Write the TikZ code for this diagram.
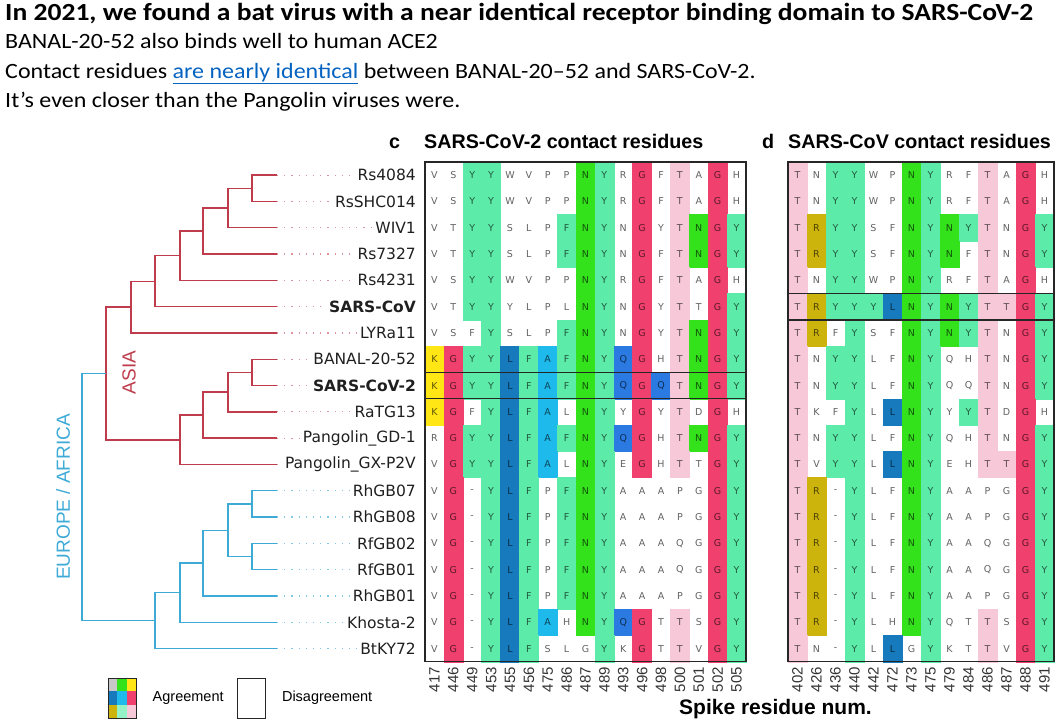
\documentclass[tikz,border=0pt]{standalone}
\usepackage{fontspec}
\usepackage{tikz}
\usetikzlibrary{positioning}
\newfontfamily\calib{Carlito}
\newfontfamily\verd{DejaVu Sans}
\newfontfamily\arial{Liberation Sans}

\definecolor{resK}{RGB}{255,230,20}
\definecolor{resG}{RGB}{240,64,110}
\definecolor{resY}{RGB}{92,235,168}
\colorlet{resF}{resY}
\definecolor{resL}{RGB}{22,122,188}
\definecolor{resA}{RGB}{30,186,236}
\definecolor{resN}{RGB}{52,226,28}
\definecolor{resQ}{RGB}{42,122,226}
\definecolor{resT}{RGB}{246,200,216}
\definecolor{resR}{RGB}{204,180,12}
\definecolor{asiared}{RGB}{190,60,75}
\definecolor{eurblue}{RGB}{62,170,214}
\definecolor{linkblue}{RGB}{5,99,193}

\tikzstyle{asia}=[draw=asiared,line width=1.4pt]
\tikzstyle{eur}=[draw=eurblue,line width=1.4pt]
\tikzstyle{asiadots}=[draw=asiared!55,line width=1.2pt,dash pattern=on 1.2pt off 6pt]
\tikzstyle{eurdots}=[draw=eurblue!65,line width=1.2pt,dash pattern=on 1.2pt off 6pt]
\tikzstyle{leaf}=[anchor=east,inner sep=0pt,text=black!88,font=\verd\fontsize{15.5}{18}\selectfont]
\tikzstyle{res}=[inner sep=0pt,text=black,text opacity=0.62,font=\verd\fontsize{9.5}{10}\selectfont]
\tikzstyle{resnum}=[rotate=90,anchor=east,inner sep=0pt,text=black!80,font=\arial\fontsize{15}{16}\selectfont]
\tikzstyle{panelbox}=[draw=black!85,line width=1.4pt]
\tikzstyle{header}=[anchor=base west,inner sep=0pt,font=\arial\bfseries\fontsize{19.7}{22}\selectfont]
\tikzstyle{headline}=[anchor=base west,inner sep=0pt,xscale=1.12,font=\calib\bfseries\fontsize{24.6}{28}\selectfont]
\tikzstyle{subline}=[anchor=base west,inner sep=0pt,xscale=1.1,font=\calib\fontsize{21.8}{24}\selectfont]
\tikzstyle{legbox}=[draw=black!85,line width=1pt,minimum width=28pt,minimum height=40pt,inner sep=0pt]
\tikzstyle{legtext}=[inner sep=0pt,font=\arial\fontsize{14.5}{16}\selectfont]

% grid geometry (panel c, panel d, rows)
\def\cx{425} \def\cw{18.88}
\def\dx{788} \def\dw{19.0}
\def\ry{162} \def\rh{26.3}

% reference sequences
\newcommand{\setref}[2]{\foreach \r [count=\k] in {#2} {\expandafter\xdef\csname #1\k\endcsname{\r}}}
\setref{refc}{K,G,Y,Y,L,F,A,F,N,Y,Q,G,Q,T,N,G,Y}
\setref{refd}{T,R,Y,Y,Y,L,N,Y,N,Y,T,T,G,Y}

\newcommand{\seqcells}[5]{% #1 row, #2 letters, #3 ref, #4 x0, #5 width
  \foreach \rl [count=\ci] in {#2} {
    \edef\curl{\rl}\edef\refl{\csname #3\ci\endcsname}
    \ifx\curl\refl
      \edef\cc{res\rl}
      \fill[fill=\cc,draw=\cc,line width=0.4pt] ({#4+#5*(\ci-1)},{\ry+\rh*(#1-1)}) rectangle ++(#5,\rh);
    \fi
    \node[res] (#3r#1c\ci) at ({#4+#5*(\ci-0.5)},{\ry+\rh*(#1-0.5)}) {\rl};
  }}
\newcommand{\seqrow}[3]{\seqcells{#1}{#2}{refc}{\cx}{\cw}\seqcells{#1}{#3}{refd}{\dx}{\dw}}

\begin{document}
\begin{tikzpicture}[x=1pt,y=-1pt]
\useasboundingbox (0,0) rectangle (1062,720);

% text on top
\node[headline] (title) at (5,20) {In 2021, we found a bat virus with a near identical receptor binding domain to SARS-CoV-2};
\node[subline] (line1) at (5,48) {BANAL-20-52 also binds well to human ACE2};
\node[subline] (line2) at (5,78) {Contact residues \textcolor{linkblue}{\underline{are nearly identical}} between BANAL-20–52 and SARS-CoV-2.};
\node[subline] (line3) at (5,107) {It’s even closer than the Pangolin viruses were.};

% panel headers
\node[header] (clet) at (389,148) {c};
\node[header] (chead) at (424,148) {SARS-CoV-2 contact residues};
\node[header] (dlet) at (762,148) {d};
\node[header] (dhead) at (788,148) {SARS-CoV contact residues};

% alignment
\seqrow{1}{V,S,Y,Y,W,V,P,P,N,Y,R,G,F,T,A,G,H}{T,N,Y,Y,W,P,N,Y,R,F,T,A,G,H}
\seqrow{2}{V,S,Y,Y,W,V,P,P,N,Y,R,G,F,T,A,G,H}{T,N,Y,Y,W,P,N,Y,R,F,T,A,G,H}
\seqrow{3}{V,T,Y,Y,S,L,P,F,N,Y,N,G,Y,T,N,G,Y}{T,R,Y,Y,S,F,N,Y,N,Y,T,N,G,Y}
\seqrow{4}{V,T,Y,Y,S,L,P,F,N,Y,N,G,F,T,N,G,Y}{T,R,Y,Y,S,F,N,Y,N,F,T,N,G,Y}
\seqrow{5}{V,S,Y,Y,W,V,P,P,N,Y,R,G,F,T,A,G,H}{T,N,Y,Y,W,P,N,Y,R,F,T,A,G,H}
\seqrow{6}{V,T,Y,Y,Y,L,P,L,N,Y,N,G,Y,T,T,G,Y}{T,R,Y,Y,Y,L,N,Y,N,Y,T,T,G,Y}
\seqrow{7}{V,S,F,Y,S,L,P,F,N,Y,N,G,Y,T,N,G,Y}{T,R,F,Y,S,F,N,Y,N,Y,T,N,G,Y}
\seqrow{8}{K,G,Y,Y,L,F,A,F,N,Y,Q,G,H,T,N,G,Y}{T,N,Y,Y,L,F,N,Y,Q,H,T,N,G,Y}
\seqrow{9}{K,G,Y,Y,L,F,A,F,N,Y,Q,G,Q,T,N,G,Y}{T,N,Y,Y,L,F,N,Y,Q,Q,T,N,G,Y}
\seqrow{10}{K,G,F,Y,L,F,A,L,N,Y,Y,G,Y,T,D,G,H}{T,K,F,Y,L,L,N,Y,Y,Y,T,D,G,H}
\seqrow{11}{R,G,Y,Y,L,F,A,F,N,Y,Q,G,H,T,N,G,Y}{T,N,Y,Y,L,F,N,Y,Q,H,T,N,G,Y}
\seqrow{12}{V,G,Y,Y,L,F,A,L,N,Y,E,G,H,T,T,G,Y}{T,V,Y,Y,L,L,N,Y,E,H,T,T,G,Y}
\seqrow{13}{V,G,-,Y,L,F,P,F,N,Y,A,A,A,P,G,G,Y}{T,R,-,Y,L,F,N,Y,A,A,P,G,G,Y}
\seqrow{14}{V,G,-,Y,L,F,P,F,N,Y,A,A,A,P,G,G,Y}{T,R,-,Y,L,F,N,Y,A,A,P,G,G,Y}
\seqrow{15}{V,G,-,Y,L,F,P,F,N,Y,A,A,A,Q,G,G,Y}{T,R,-,Y,L,F,N,Y,A,A,Q,G,G,Y}
\seqrow{16}{V,G,-,Y,L,F,P,F,N,Y,A,A,A,Q,G,G,Y}{T,R,-,Y,L,F,N,Y,A,A,Q,G,G,Y}
\seqrow{17}{V,G,-,Y,L,F,P,F,N,Y,A,A,A,P,G,G,Y}{T,R,-,Y,L,F,N,Y,A,A,P,G,G,Y}
\seqrow{18}{V,G,-,Y,L,F,A,H,N,Y,Q,G,T,T,S,G,Y}{T,R,-,Y,L,H,N,Y,Q,T,T,S,G,Y}
\seqrow{19}{V,G,-,Y,L,F,S,L,G,Y,K,G,T,T,V,G,Y}{T,N,-,Y,L,L,G,Y,K,T,T,V,G,Y}

% frames
\draw[panelbox] (\cx,\ry) rectangle ++({17*\cw},{19*\rh});
\draw[panelbox] (\dx,\ry) rectangle ++({14*\dw},{19*\rh});
\draw[panelbox] (\cx,{\ry+8*\rh}) rectangle ++({17*\cw},\rh);
\draw[panelbox] (\dx,{\ry+5*\rh}) rectangle ++({14*\dw},\rh);

% residue numbers
\foreach \n [count=\ci] in {417,446,449,453,455,456,475,486,487,489,493,496,498,500,501,502,505}
  \node[resnum] (cnum\ci) at ({\cx+\cw*(\ci-0.5)},667) {\n};
\foreach \n [count=\ci] in {402,426,436,440,442,472,473,475,479,484,486,487,488,491}
  \node[resnum] (dnum\ci) at ({\dx+\dw*(\ci-0.5)},667) {\n};
\node[header,font=\arial\bfseries\fontsize{21}{24}\selectfont] (axis) at (679,714) {Spike residue num.};

% leaves
\foreach \lab/\reg [count=\i] in {Rs4084/asiadots,RsSHC014/asiadots,WIV1/asiadots,Rs7327/asiadots,Rs4231/asiadots,
  {\bfseries SARS-CoV}/asiadots,LYRa11/asiadots,BANAL-20-52/asiadots,{\bfseries SARS-CoV-2}/asiadots,RaTG13/asiadots,
  Pangolin\_GD-1/asiadots,Pangolin\_GX-P2V/asiadots,RhGB07/eurdots,RhGB08/eurdots,RfGB02/eurdots,RfGB01/eurdots,
  RhGB01/eurdots,Khosta-2/eurdots,BtKY72/eurdots} {
  \node[leaf] (leaf\i) at (416,{\ry+\rh*(\i-0.5)}) {\lab};
  \coordinate (tip\i) at (277,{\ry+\rh*(\i-0.5)});
  \draw[\reg] (tip\i) -- ([xshift=-3pt]leaf\i.west);
}

% tree nodes
\coordinate (a1) at (252,188.3);
\coordinate (a2) at (228,208.0);
\coordinate (a3) at (203,231.0);
\coordinate (a4) at (180,255.7);
\coordinate (a5) at (155,281.2);
\coordinate (a6) at (131,307.1);
\coordinate (b1) at (252,372.4);
\coordinate (b2) at (228,392.1);
\coordinate (b3) at (203,415.1);
\coordinate (b4) at (180,439.8);
\coordinate (asianode) at (106,373.45);
\coordinate (e1) at (252,503.9);
\coordinate (e2) at (252,556.5);
\coordinate (e3) at (228,530.2);
\coordinate (e4) at (203,563.1);
\coordinate (e5) at (180,592.7);
\coordinate (e6) at (155,620.6);
\coordinate (root) at (82,497.0);

% asia branches
\draw[asia] (a1) |- (tip1);
\draw[asia] (a1) |- (tip2);
\draw[asia] (a2) |- (a1);
\draw[asia] (a2) |- (tip3);
\draw[asia] (a3) |- (a2);
\draw[asia] (a3) |- (tip4);
\draw[asia] (a4) |- (a3);
\draw[asia] (a4) |- (tip5);
\draw[asia] (a5) |- (a4);
\draw[asia] (a5) |- (tip6);
\draw[asia] (a6) |- (a5);
\draw[asia] (a6) |- (tip7);
\draw[asia] (b1) |- (tip8);
\draw[asia] (b1) |- (tip9);
\draw[asia] (b2) |- (b1);
\draw[asia] (b2) |- (tip10);
\draw[asia] (b3) |- (b2);
\draw[asia] (b3) |- (tip11);
\draw[asia] (b4) |- (b3);
\draw[asia] (b4) |- (tip12);
\draw[asia] (asianode) |- (a6);
\draw[asia] (asianode) |- (b4);

% europe / africa branches
\draw[eur] (e1) |- (tip13);
\draw[eur] (e1) |- (tip14);
\draw[eur] (e2) |- (tip15);
\draw[eur] (e2) |- (tip16);
\draw[eur] (e3) |- (e1);
\draw[eur] (e3) |- (e2);
\draw[eur] (e4) |- (e3);
\draw[eur] (e4) |- (tip17);
\draw[eur] (e5) |- (e4);
\draw[eur] (e5) |- (tip18);
\draw[eur] (e6) |- (e5);
\draw[eur] (e6) |- (tip19);
\draw[eur] (root) |- (asianode);
\draw[eur] (root) |- (e6);

\node[rotate=90,text=asiared,font=\arial\fontsize{19}{20}\selectfont] (asialab) at (129,372.5) {ASIA};
\node[rotate=90,text=eurblue,font=\arial\fontsize{19}{20}\selectfont] (eurlab) at (63,497) {EUROPE / AFRICA};

% legend
\foreach \cl [count=\k from 0] in {black!22,resN,resK,resL,resA,resG,resR,resY!65,resT} {
  \pgfmathsetmacro\lx{108+28/3*mod(\k,3)}
  \pgfmathsetmacro\ly{678+40/3*floor(\k/3)}
  \fill[\cl] (\lx,\ly) rectangle ++({28/3},{40/3});
}
\node[legbox] (agree) at (122,698) {};
\node[legtext,anchor=west,right=16pt of agree] (agreetext) {Agreement};
\node[legbox,right=13pt of agreetext] (disagree) {};
\node[legtext,anchor=west,right=16pt of disagree] (disagreetext) {Disagreement};
\end{tikzpicture}
\end{document}
